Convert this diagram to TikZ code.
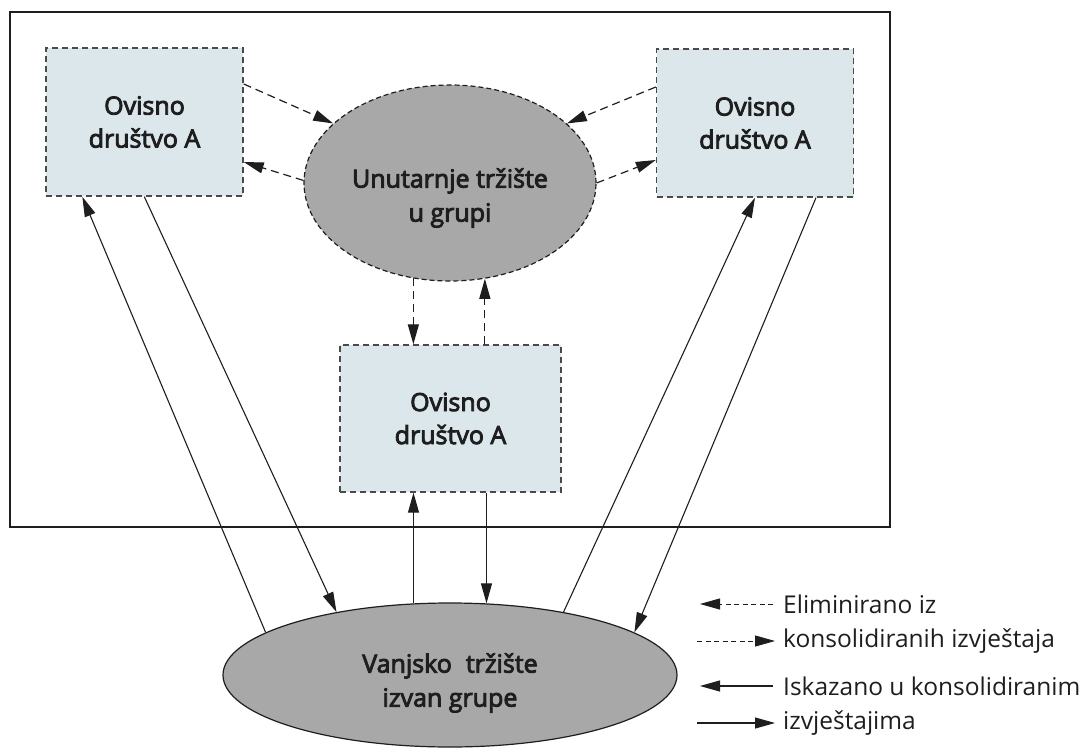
\documentclass[tikz,border=0pt]{standalone}
\usepackage{fontspec}
\setmainfont{Open Sans}
\newfontfamily\nodefont[FakeBold=3.5]{Open Sans}
\usetikzlibrary{arrows.meta,shapes.geometric}
\definecolor{boxfill}{HTML}{DCE7EC}
\definecolor{ellfill}{HTML}{A8A8A8}
\definecolor{bord}{HTML}{4A4A4A}
\definecolor{ink}{HTML}{1E1E1E}
\begin{document}
\begin{tikzpicture}[x=1pt,y=-1pt,
  >={Triangle[length=20pt,width=11pt]},
  subbox/.style={rectangle, draw=bord, fill=boxfill, line width=1.4pt,
    dash pattern=on 6pt off 4pt, minimum width=197pt, minimum height=148pt,
    inner sep=0pt, align=center, text=ink,
    font=\nodefont\fontsize{25}{33}\selectfont},
  market/.style={ellipse, fill=ellfill, inner sep=0pt},
  mlabel/.style={align=center, text=ink, font=\nodefont\fontsize{25}{34}\selectfont},
  elim/.style={->, draw=ink, line width=1.2pt, dash pattern=on 8pt off 5pt},
  shown/.style={->, draw=ink, line width=1.1pt},
  legtext/.style={anchor=west, text=ink, inner sep=0pt, font=\fontsize{24.5}{28}\selectfont},
  legelim/.style={->, draw=ink, line width=1pt, dash pattern=on 5pt off 3.5pt},
  legshown/.style={->, draw=ink, line width=1.1pt},
]
\useasboundingbox (0,0) rectangle (1088,755);
% group frame
\draw[draw=ink, line width=1.5pt] (10,12) rectangle (890,527);

% nodes
\node[subbox] (lb) at (144.5,122) {Ovisno\\društvo A};
\node[subbox] (rb) at (755,123) {Ovisno\\društvo A};
\node[subbox, minimum width=221pt, minimum height=147pt] (cb) at (450.5,418.5) {Ovisno\\društvo A};
\node[market, draw=ink, line width=1.2pt, dash pattern=on 5pt off 3pt,
      minimum width=292pt, minimum height=196pt] (ie) at (450,183) {};
\node[mlabel] (iet) at ([yshift=-15pt]ie.center) {Unutarnje tržište\\u grupi};
\node[market, draw=ink, line width=1.2pt,
      minimum width=454pt, minimum height=144pt] (oe) at (450,675) {};
\node[mlabel] (oet) at ([yshift=-8pt]oe.center) {Vanjsko\hspace{0.3em} tržište\\izvan grupe};

% eliminated (dashed) flows
\draw[elim] ([yshift=38pt]lb.east) -- (ie.153.6);
\draw[elim] (ie.179) -- ([yshift=-40pt]lb.east);
\draw[elim] ([yshift=36pt]rb.west) -- (ie.27.1);
\draw[elim] (ie.0) -- ([yshift=-37pt]rb.west);
\draw[elim] (ie.249.8) -- (ie.249.8 |- cb.north);
\draw[elim] (ie.290.75 |- cb.north) -- (ie.290.75);

% shown (solid) flows
\draw[shown] (oe.167.3) -- ([xshift=37pt]lb.south west);
\draw[shown] ([xshift=99pt]lb.south west) -- (oe.151.9);
\draw[shown] (oe.117.5) -- (oe.117.5 |- cb.south);
\draw[shown] (oe.63.8 |- cb.south) -- (oe.63.8);
\draw[shown] (oe.29.1) -- (rb.south);
\draw[shown] ([xshift=61pt]rb.south) -- (oe.13.1);

% legend
\node[legtext] (l1) at (783,604) {Eliminirano iz};
\node[legtext] (l2) at (783,641) {konsolidiranih izvještaja};
\node[legtext] (l3) at (783,686) {Iskazano u konsolidiranim};
\node[legtext] (l4) at (783,723) {izvještajima};
\coordinate (a1) at ([xshift=-83pt]l1.west);
\coordinate (a2) at ([xshift=-86pt]l2.west);
\coordinate (a3) at ([xshift=-83pt]l3.west);
\coordinate (a4) at ([xshift=-86pt]l4.west);
\draw[legelim] ([xshift=-10pt]l1.west) -- (a1);
\draw[legelim] (a2) -- ([xshift=-8pt]l2.west);
\draw[legshown] ([xshift=-10pt]l3.west) -- (a3);
\draw[legshown] (a4) -- ([xshift=-8pt]l4.west);
\end{tikzpicture}
\end{document}
